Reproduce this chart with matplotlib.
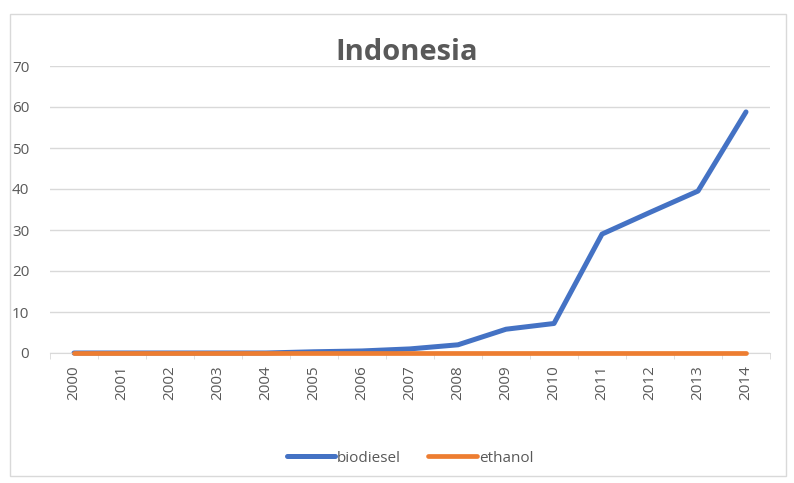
import matplotlib.pyplot as plt
import numpy as np
from matplotlib.patches import Rectangle

# data
years = ['2000', '2001', '2002', '2003', '2004', '2005', '2006', '2007',
         '2008', '2009', '2010', '2011', '2012', '2013', '2014']
biodiesel = [0, 0, 0, 0, 0, 0.3, 0.5, 1.0, 2.0, 5.8, 7.2, 29.0, 34.3, 39.5, 58.8]
ethanol = [0.1] * 15

plt.rcParams['font.family'] = ['Open Sans', 'DejaVu Sans']

fig = plt.figure(figsize=(7.94, 4.83), dpi=100)
fig.patches.append(Rectangle((10 / 794, 1 - 476 / 483), 776 / 794, 462 / 483,
                             transform=fig.transFigure, fill=False,
                             edgecolor='#d9d9d9', linewidth=1))

ax = fig.add_axes([50 / 794, 1 - 353 / 483, 720 / 794, 287 / 483])
x = np.arange(len(years))
ax.plot(x, biodiesel, color='#4472C4', linewidth=3.6, solid_capstyle='round',
        solid_joinstyle='round', label='biodiesel', zorder=2, clip_on=False)
ax.plot(x, ethanol, color='#ED7D31', linewidth=3.4, solid_capstyle='round',
        label='ethanol', zorder=3, clip_on=False)

ax.set_xlim(-0.5, len(years) - 0.5)
ax.set_ylim(0, 70)
ax.set_yticks(range(0, 71, 10))
ax.set_xticks(x)
ax.set_xticklabels(years, rotation=90)
ax.set_xticks(np.arange(-0.5, len(years), 1), minor=True)
ax.tick_params(axis='x', which='major', length=0, pad=9, labelsize=11, labelcolor='#595959')
ax.tick_params(axis='x', which='minor', length=4, color='#d9d9d9')
ax.tick_params(axis='y', length=0, pad=15, labelsize=11, labelcolor='#595959')
ax.grid(axis='y', color='#d9d9d9', linewidth=1)
ax.set_axisbelow(True)
for s in ['top', 'right', 'left']:
    ax.spines[s].set_visible(False)
ax.spines['bottom'].set_color('#d9d9d9')

fig.text(407 / 794, 1 - 52 / 483, 'Indonesia', ha='center', va='center',
         fontsize=21, fontweight='bold', color='#595959')

leg = fig.legend(loc='center', bbox_to_anchor=(410 / 794, 1 - 458 / 483), ncol=2,
                 frameon=False, fontsize=11, handlelength=3.2, handletextpad=0.1,
                 columnspacing=1.8)
for t in leg.get_texts():
    t.set_color('#595959')

fig.savefig('out.png', dpi=100)
